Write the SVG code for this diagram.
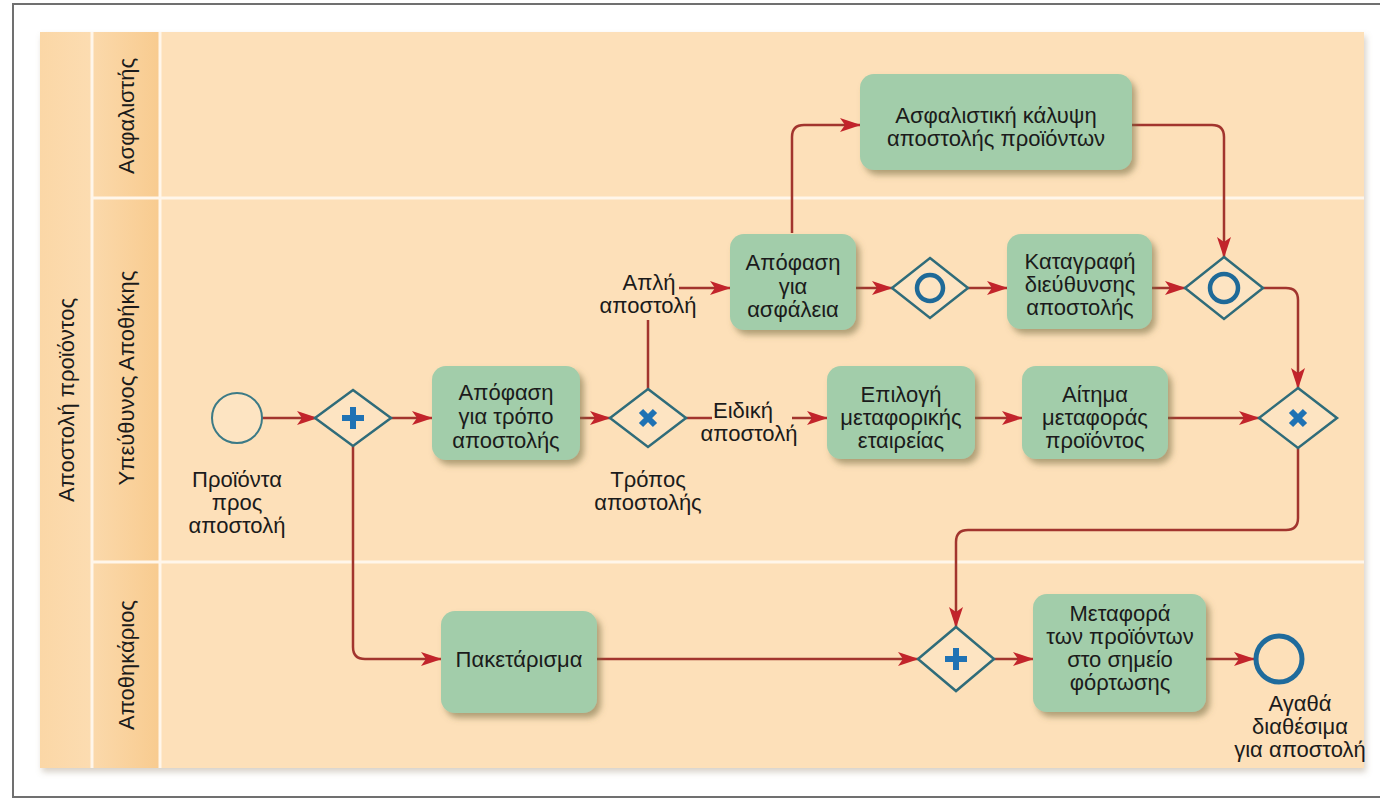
<svg xmlns="http://www.w3.org/2000/svg" width="1380" height="800" viewBox="0 0 1380 800">
  <defs>
    <style>
      .lbl { font-family: "Liberation Sans", Arial, sans-serif; font-size: 22px; fill: #1b1b1b; text-anchor: middle; }
      .lane { font-family: "Liberation Sans", Arial, sans-serif; font-size: 22px; fill: #1b1b1b; text-anchor: middle; }
      .task { fill: #a2cdaa; filter: url(#shadow); }
      .gw { fill: #fde4c2; stroke: #2f6c7a; stroke-width: 2.5; stroke-linejoin: miter; }
      .mark { stroke: #1f72b4; stroke-width: 6; stroke-linecap: butt; fill: none; }
      .incl { fill: none; stroke: #1f6a98; stroke-width: 4.5; }
      .flow { fill: none; stroke: #a2352e; stroke-width: 2.5; }
      .arrow { marker-end: url(#ah); }
      .sep { stroke: #fff6ea; stroke-width: 3; }
    </style>
    <marker id="ah" markerUnits="userSpaceOnUse" markerWidth="22" markerHeight="16" refX="20" refY="8" orient="auto">
      <path d="M0,1 L21,8 L0,15 L5,8 z" fill="#c2242b"/>
    </marker>
    <filter id="shadow" x="-10%" y="-10%" width="125%" height="130%">
      <feDropShadow dx="4" dy="5" stdDeviation="3" flood-color="#6f6a3c" flood-opacity="0.55"/>
    </filter>
    <filter id="poolShadow" x="-2%" y="-2%" width="104%" height="105%">
      <feDropShadow dx="2" dy="4" stdDeviation="3" flood-color="#8a7a60" flood-opacity="0.35"/>
    </filter>
    <linearGradient id="headGrad" x1="0" y1="0" x2="1" y2="0">
      <stop offset="0" stop-color="#fbd9ab"/>
      <stop offset="1" stop-color="#f8cb8f"/>
    </linearGradient>
    <linearGradient id="poolGrad" x1="0" y1="0" x2="1" y2="0">
      <stop offset="0" stop-color="#fbd7a6"/>
      <stop offset="1" stop-color="#fcdcb1"/>
    </linearGradient>
  </defs>

  <!-- page frame -->
  <rect x="0" y="0" width="1380" height="800" fill="#ffffff"/>
  <rect x="13" y="4" width="1400" height="793" fill="none" stroke="#707070" stroke-width="2"/>

  <!-- pool and lanes -->
  <g id="pool">
    <rect x="40" y="32" width="1324" height="736" fill="#fde0b9" filter="url(#poolShadow)"/>
    <rect x="40" y="32" width="52" height="736" fill="url(#poolGrad)"/>
    <rect x="92" y="32" width="68" height="736" fill="url(#headGrad)"/>
    <line class="sep" x1="92" y1="32" x2="92" y2="768"/>
    <line class="sep" x1="160" y1="32" x2="160" y2="768"/>
    <line class="sep" x1="92" y1="198" x2="1364" y2="198"/>
    <line class="sep" x1="92" y1="562" x2="1364" y2="562"/>
    <text class="lane" transform="translate(74,400) rotate(-90)">Αποστολή προϊόντος</text>
  </g>
  <g id="lane-asfalistis">
    <text class="lane" transform="translate(134,116) rotate(-90)">Ασφαλιστής</text>
  </g>
  <g id="lane-ypeythynos">
    <text class="lane" transform="translate(134,378) rotate(-90)">Υπεύθυνος Αποθήκης</text>
  </g>
  <g id="lane-apothikarios">
    <text class="lane" transform="translate(134,665) rotate(-90)">Αποθηκάριος</text>
  </g>

  <!-- sequence flows -->
  <g id="connectors">
    <path class="flow arrow" d="M262,418 H317"/>
    <path class="flow arrow" d="M391,418 H432"/>
    <path class="flow arrow" d="M580,418 H610"/>
    <path class="flow" d="M648,389 V320"/>
    <path class="flow arrow" d="M679,288 H730"/>
    <path class="flow" d="M686,418 H712"/>
    <path class="flow arrow" d="M792,418 H827"/>
    <path class="flow arrow" d="M792,233 V137 Q792,125 804,125 H860"/>
    <path class="flow arrow" d="M856,288 H892"/>
    <path class="flow arrow" d="M968,288 H1007"/>
    <path class="flow arrow" d="M1152,288 H1185"/>
    <path class="flow arrow" d="M1132,125 H1212 Q1224,125 1224,137 V257"/>
    <path class="flow arrow" d="M1263,288 H1286 Q1298,288 1298,300 V388"/>
    <path class="flow arrow" d="M975,418 H1022"/>
    <path class="flow arrow" d="M1168,418 H1259"/>
    <path class="flow arrow" d="M1298,448 V518 Q1298,530 1286,530 H968 Q956,530 956,542 V627"/>
    <path class="flow arrow" d="M353,446 V647 Q353,659 365,659 H441"/>
    <path class="flow arrow" d="M597,659 H918"/>
    <path class="flow arrow" d="M994,659 H1033"/>
    <path class="flow arrow" d="M1206,659 H1254"/>
  </g>

  <!-- start event -->
  <g id="start">
    <circle cx="237" cy="418" r="25" fill="#fde4c2" stroke="#3c7a86" stroke-width="2"/>
    <text class="lbl"><tspan x="237" y="487">Προϊόντα</tspan><tspan x="237" y="510">προς</tspan><tspan x="237" y="533">αποστολή</tspan></text>
  </g>

  <!-- parallel split -->
  <g id="split">
    <path class="gw" d="M353,390 L391,418 L353,446 L315,418 Z"/>
    <path class="mark" d="M353,407 V429 M342,418 H364"/>
  </g>

  <g id="task-tropos">
    <rect class="task" x="432" y="366" width="148" height="94" rx="14"/>
    <text class="lbl"><tspan x="506" y="400">Απόφαση</tspan><tspan x="506" y="424">για τρόπο</tspan><tspan x="506" y="448">αποστολής</tspan></text>
  </g>

  <!-- exclusive gateway: shipping method -->
  <g id="xor-tropos">
    <path class="gw" d="M648,389 L686,418 L648,447 L610,418 Z"/>
    <path class="mark" d="M641,411 L655,425 M655,411 L641,425"/>
    <text class="lbl"><tspan x="648" y="487">Τρόπος</tspan><tspan x="648" y="510">αποστολής</tspan></text>
  </g>

  <g id="label-apli">
    <text class="lbl"><tspan x="649" y="290">Απλή</tspan><tspan x="648" y="313">αποστολή</tspan></text>
  </g>
  <g id="label-eidiki">
    <text class="lbl"><tspan x="743" y="418">Ειδική</tspan><tspan x="749" y="441">αποστολή</tspan></text>
  </g>

  <g id="task-asfaleia">
    <rect class="task" x="730" y="234" width="126" height="96" rx="14"/>
    <text class="lbl"><tspan x="793" y="270">Απόφαση</tspan><tspan x="793" y="294">για</tspan><tspan x="793" y="317">ασφάλεια</tspan></text>
  </g>

  <g id="task-kalypsi">
    <rect class="task" x="860" y="74" width="272" height="96" rx="14"/>
    <text class="lbl"><tspan x="996" y="123">Ασφαλιστική κάλυψη</tspan><tspan x="996" y="146">αποστολής προϊόντων</tspan></text>
  </g>

  <g id="incl-1">
    <path class="gw" d="M930,258 L968,288 L930,318 L892,288 Z"/>
    <circle class="incl" cx="930" cy="288" r="13"/>
  </g>

  <g id="task-katagrafi">
    <rect class="task" x="1007" y="234" width="145" height="95" rx="14"/>
    <text class="lbl"><tspan x="1080" y="269">Καταγραφή</tspan><tspan x="1080" y="292">διεύθυνσης</tspan><tspan x="1080" y="315">αποστολής</tspan></text>
  </g>

  <g id="incl-2">
    <path class="gw" d="M1224,257 L1263,288 L1224,319 L1185,288 Z"/>
    <circle class="incl" cx="1224" cy="288" r="14"/>
  </g>

  <g id="task-epilogi">
    <rect class="task" x="827" y="366" width="148" height="93" rx="14"/>
    <text class="lbl"><tspan x="901" y="402">Επιλογή</tspan><tspan x="901" y="425">μεταφορικής</tspan><tspan x="901" y="448">εταιρείας</tspan></text>
  </g>

  <g id="task-aitima">
    <rect class="task" x="1022" y="366" width="146" height="93" rx="14"/>
    <text class="lbl"><tspan x="1095" y="402">Αίτημα</tspan><tspan x="1095" y="425">μεταφοράς</tspan><tspan x="1095" y="448">προϊόντος</tspan></text>
  </g>

  <g id="xor-merge">
    <path class="gw" d="M1298,388 L1337,418 L1298,448 L1259,418 Z"/>
    <path class="mark" d="M1291,411 L1305,425 M1305,411 L1291,425"/>
  </g>

  <g id="task-paketarisma">
    <rect class="task" x="441" y="611" width="156" height="102" rx="14"/>
    <text class="lbl" x="519" y="667">Πακετάρισμα</text>
  </g>

  <g id="join">
    <path class="gw" d="M956,627 L994,659 L956,691 L918,659 Z"/>
    <path class="mark" d="M956,648 V670 M945,659 H967"/>
  </g>

  <g id="task-metafora">
    <rect class="task" x="1033" y="594" width="173" height="118" rx="14"/>
    <text class="lbl"><tspan x="1120" y="621">Μεταφορά</tspan><tspan x="1120" y="644">των προϊόντων</tspan><tspan x="1120" y="667">στο σημείο</tspan><tspan x="1120" y="690">φόρτωσης</tspan></text>
  </g>

  <!-- end event -->
  <g id="end">
    <circle cx="1279" cy="659" r="23" fill="none" stroke="#1f6b9c" stroke-width="5"/>
    <text class="lbl"><tspan x="1300" y="711">Αγαθά</tspan><tspan x="1300" y="734">διαθέσιμα</tspan><tspan x="1300" y="757">για αποστολή</tspan></text>
  </g>
</svg>
